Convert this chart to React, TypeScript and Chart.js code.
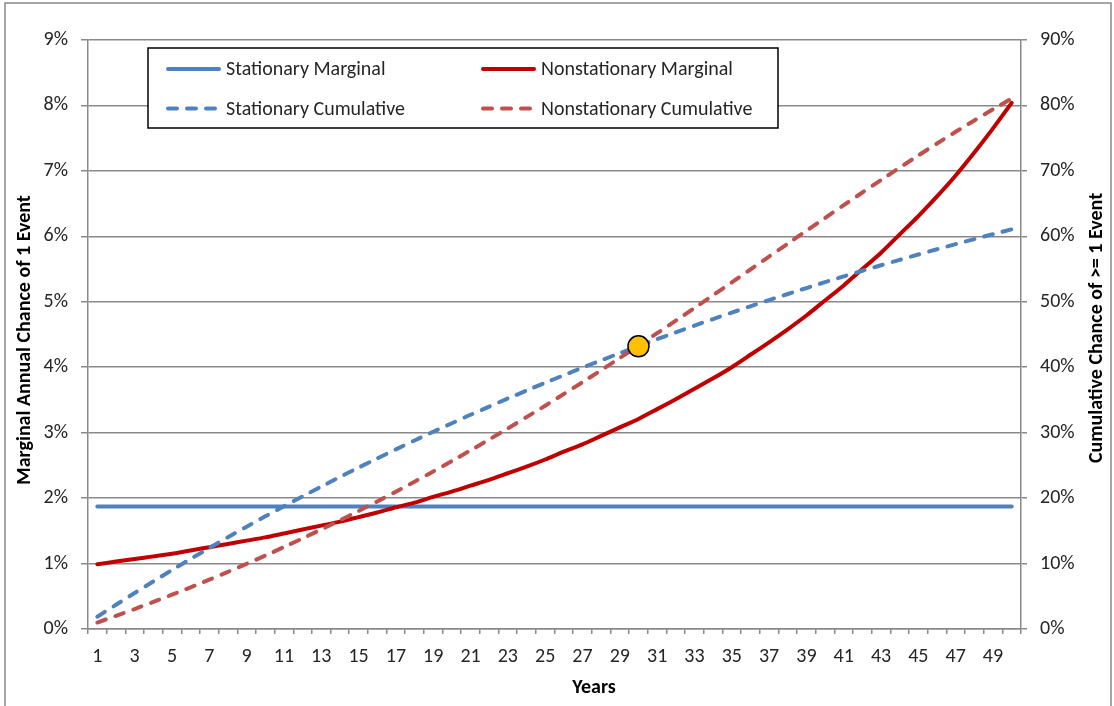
import React, { useEffect, useRef } from 'react';
import { Chart, registerables } from 'chart.js';

Chart.register(...registerables);

// ---------- data ----------
const years = [1, 2, 3, 4, 5, 6, 7, 8, 9, 10, 11, 12, 13, 14, 15, 16, 17, 18, 19, 20, 21, 22, 23, 24, 25, 26, 27, 28, 29, 30, 31, 32, 33, 34, 35, 36, 37, 38, 39, 40, 41, 42, 43, 44, 45, 46, 47, 48, 49, 50];

// left axis (%), marginal annual chance
const stationaryMarginal = [1.87, 1.87, 1.87, 1.87, 1.87, 1.87, 1.87, 1.87, 1.87, 1.87, 1.87, 1.87, 1.87, 1.87, 1.87, 1.87, 1.87, 1.87, 1.87, 1.87, 1.87, 1.87, 1.87, 1.87, 1.87, 1.87, 1.87, 1.87, 1.87, 1.87, 1.87, 1.87, 1.87, 1.87, 1.87, 1.87, 1.87, 1.87, 1.87, 1.87, 1.87, 1.87, 1.87, 1.87, 1.87, 1.87, 1.87, 1.87, 1.87, 1.87];
const nonstationaryMarginal = [0.99, 1.03, 1.07, 1.11, 1.15, 1.2, 1.25, 1.3, 1.35, 1.4, 1.46, 1.52, 1.58, 1.64, 1.71, 1.78, 1.86, 1.93, 2.02, 2.1, 2.19, 2.28, 2.38, 2.48, 2.59, 2.71, 2.82, 2.95, 3.08, 3.21, 3.36, 3.51, 3.67, 3.83, 4.0, 4.19, 4.38, 4.58, 4.79, 5.02, 5.25, 5.5, 5.75, 6.03, 6.31, 6.61, 6.93, 7.28, 7.65, 8.04];

// right axis (%), cumulative chance of >= 1 event
const stationaryCumulative = [1.87, 3.7, 5.5, 7.27, 9.01, 10.71, 12.38, 14.02, 15.63, 17.21, 18.75, 20.27, 21.76, 23.23, 24.66, 26.07, 27.45, 28.81, 30.14, 31.44, 32.73, 33.98, 35.22, 36.43, 37.62, 38.78, 39.93, 41.05, 42.15, 43.23, 44.29, 45.33, 46.36, 47.36, 48.35, 49.31, 50.26, 51.19, 52.1, 53.0, 53.88, 54.74, 55.58, 56.41, 57.23, 58.03, 58.81, 59.58, 60.33, 61.07];
const nonstationaryCumulative = [0.99, 2.01, 3.05, 4.13, 5.24, 6.37, 7.54, 8.73, 9.96, 11.22, 12.52, 13.85, 15.21, 16.6, 18.03, 19.49, 20.98, 22.51, 24.07, 25.67, 27.3, 28.96, 30.65, 32.38, 34.12, 35.91, 37.71, 39.55, 41.41, 43.29, 45.2, 47.11, 49.05, 51.0, 52.96, 54.93, 56.91, 58.88, 60.85, 62.81, 64.76, 66.7, 68.61, 70.5, 72.36, 74.19, 75.97, 77.71, 79.41, 81.06];

// highlighted point
const markerYear = 30;
const markerValue = 43.2;

// axis ranges / ticks
const leftMin = 0;
const leftMax = 9;
const leftStep = 1;
const rightMin = 0;
const rightMax = 90;
const rightStep = 10;

// text
const leftTitle = 'Marginal Annual Chance of 1 Event';
const rightTitle = 'Cumulative Chance of >= 1 Event';
const xTitle = 'Years';
const seriesLabels = ['Stationary Marginal', 'Nonstationary Marginal', 'Stationary Cumulative', 'Nonstationary Cumulative'];

// ---------- styles ----------
const FONT = 'Carlito, Calibri, Lato, "Noto Sans", sans-serif';
const BLUE = '#4F81BD';
const RED = '#C00000';
const RED_DASH = '#C0504D';
const GRID = '#898989';
const DASH = [9, 10];

const legendItems = [
  { label: seriesLabels[0], color: BLUE, dashed: false, col: 0, row: 0 },
  { label: seriesLabels[1], color: RED, dashed: false, col: 1, row: 0 },
  { label: seriesLabels[2], color: BLUE, dashed: true, col: 0, row: 1 },
  { label: seriesLabels[3], color: RED_DASH, dashed: true, col: 1, row: 1 },
];

const decorPlugin = {
  id: 'decor',
  beforeDraw(chart: any) {
    const ctx = chart.ctx;
    ctx.save();
    ctx.fillStyle = '#ffffff';
    ctx.fillRect(0, 0, chart.width, chart.height);
    ctx.strokeStyle = GRID;
    ctx.lineWidth = 1.5;
    ctx.strokeRect(5, 3, 1106, 720);
    ctx.restore();
  },
  afterDraw(chart: any) {
    const ctx = chart.ctx;
    ctx.save();
    // axis titles
    ctx.fillStyle = '#000000';
    ctx.font = `bold 20px ${FONT}`;
    ctx.textAlign = 'center';
    ctx.textBaseline = 'middle';
    ctx.fillText(xTitle, 594, 688);

    ctx.save();
    ctx.translate(25, 340);
    ctx.rotate(-Math.PI / 2);
    ctx.fillText(leftTitle, 0, 0);
    ctx.restore();

    ctx.save();
    ctx.translate(1097, 328);
    ctx.rotate(-Math.PI / 2);
    ctx.fillText(rightTitle, 0, 0);
    ctx.restore();

    // legend box
    const bx = 148, by = 48, bw = 630, bh = 80;
    ctx.fillStyle = '#ffffff';
    ctx.fillRect(bx, by, bw, bh);
    ctx.strokeStyle = '#000000';
    ctx.lineWidth = 1.5;
    ctx.strokeRect(bx, by, bw, bh);

    const colX = [166, 481];
    const rowY = [69, 108.5];
    ctx.font = `20px ${FONT}`;
    ctx.textAlign = 'left';
    ctx.textBaseline = 'middle';
    legendItems.forEach((it) => {
      const x = colX[it.col];
      const y = rowY[it.row];
      ctx.save();
      ctx.strokeStyle = it.color;
      ctx.lineWidth = 4;
      ctx.lineCap = 'round';
      ctx.setLineDash(it.dashed ? DASH : []);
      ctx.beginPath();
      ctx.moveTo(x + 2, y);
      ctx.lineTo(x + 53, y);
      ctx.stroke();
      ctx.restore();
      ctx.fillStyle = '#262626';
      ctx.fillText(it.label, x + 60, y + 1);
    });
    ctx.restore();
  },
};

export default function App() {
  const canvasRef = useRef<HTMLCanvasElement | null>(null);

  useEffect(() => {
    document.body.style.margin = '0';
    const canvas = canvasRef.current;
    if (!canvas) return;

    const markerData = years.map((y) => (y === markerYear ? markerValue : null));

    const chart = new Chart(canvas, {
      type: 'line',
      data: {
        labels: years.map(String),
        datasets: [
          {
            label: 'Marker',
            data: markerData,
            yAxisID: 'y1',
            showLine: false,
            pointRadius: 10.5,
            pointHoverRadius: 10.5,
            pointBackgroundColor: '#FFC000',
            pointBorderColor: '#000000',
            pointBorderWidth: 1.5,
            order: 0,
          },
          {
            label: seriesLabels[3],
            data: nonstationaryCumulative,
            yAxisID: 'y1',
            borderColor: RED_DASH,
            borderWidth: 4,
            borderDash: DASH,
            borderCapStyle: 'round',
            pointRadius: 0,
            tension: 0.2,
            order: 1,
          },
          {
            label: seriesLabels[2],
            data: stationaryCumulative,
            yAxisID: 'y1',
            borderColor: BLUE,
            borderWidth: 4,
            borderDash: DASH,
            borderCapStyle: 'round',
            pointRadius: 0,
            tension: 0.2,
            order: 2,
          },
          {
            label: seriesLabels[1],
            data: nonstationaryMarginal,
            yAxisID: 'y',
            borderColor: RED,
            borderWidth: 4,
            borderCapStyle: 'round',
            pointRadius: 0,
            tension: 0.2,
            order: 3,
          },
          {
            label: seriesLabels[0],
            data: stationaryMarginal,
            yAxisID: 'y',
            borderColor: BLUE,
            borderWidth: 4,
            borderCapStyle: 'round',
            pointRadius: 0,
            tension: 0,
            order: 4,
          },
        ],
      },
      options: {
        responsive: false,
        animation: false,
        devicePixelRatio: 1,
        layout: { padding: { top: 40, left: 0, right: 0, bottom: 0 } },
        plugins: {
          legend: { display: false },
          tooltip: { enabled: false },
        },
        scales: {
          x: {
            type: 'category',
            offset: true,
            afterFit: (s: any) => { s.height = 77; },
            grid: {
              display: true,
              drawOnChartArea: false,
              drawTicks: true,
              tickLength: 5,
              offset: true,
              color: GRID,
              lineWidth: 1.5,
            },
            border: { display: true, color: GRID, width: 1.5 },
            ticks: {
              autoSkip: false,
              maxRotation: 0,
              minRotation: 0,
              padding: 11,
              color: '#262626',
              font: { family: FONT, size: 20 },
              callback: (_v: any, i: number) => (years[i] % 2 === 1 ? String(years[i]) : ''),
            },
          },
          y: {
            position: 'left',
            min: leftMin,
            max: leftMax,
            afterFit: (s: any) => { s.width = 88; },
            grid: {
              color: GRID,
              lineWidth: 1.5,
              drawTicks: true,
              tickLength: 7,
            },
            border: { display: true, color: GRID, width: 1.5 },
            ticks: {
              stepSize: leftStep,
              padding: 13,
              color: '#262626',
              font: { family: FONT, size: 20 },
              callback: (v: any) => `${v}%`,
            },
          },
          y1: {
            position: 'right',
            min: rightMin,
            max: rightMax,
            afterFit: (s: any) => { s.width = 93; },
            grid: {
              drawOnChartArea: false,
              color: GRID,
              lineWidth: 1.5,
              drawTicks: true,
              tickLength: 6,
            },
            border: { display: true, color: GRID, width: 1.5 },
            ticks: {
              stepSize: rightStep,
              padding: 13,
              color: '#262626',
              font: { family: FONT, size: 20 },
              callback: (v: any) => `${v}%`,
            },
          },
        },
      },
      plugins: [decorPlugin],
    } as any);

    return () => chart.destroy();
  }, []);

  return (
    <div style={{ position: 'relative', width: 1114, height: 706 }}>
      <canvas ref={canvasRef} width={1114} height={706} style={{ display: 'block', width: 1114, height: 706 }} />
    </div>
  );
}
